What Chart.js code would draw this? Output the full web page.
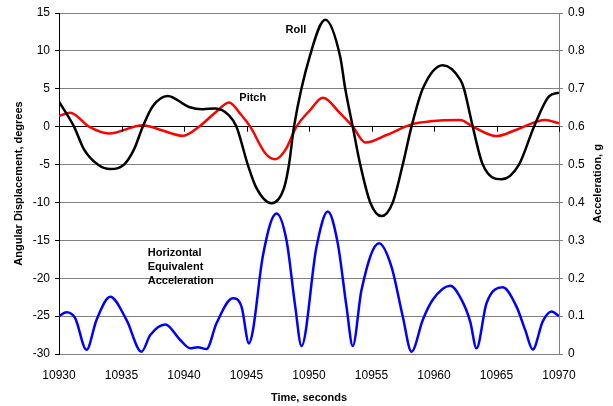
<!DOCTYPE html>
<html>
<head>
<meta charset="utf-8">
<script src="https://cdn.jsdelivr.net/npm/chart.js@4"></script>
<style>
  html, body { margin: 0; padding: 0; background: #fff; }
  #wrap { width: 613px; height: 406px; }
</style>
</head>
<body>
<div id="wrap"><canvas id="chart"></canvas></div>
<script>
// ---- data ----
const rollT   = [10930, 10931.2, 10932.0, 10933.1, 10934.1, 10935.2, 10936.0, 10936.7, 10937.5, 10938.7, 10940.4, 10941.5, 10942.5, 10943.6, 10944.2, 10945.1, 10945.8, 10947.0, 10948.0, 10948.4, 10948.8, 10950.1, 10951.3, 10952.5, 10952.9, 10953.5, 10954.1, 10954.9, 10955.8, 10956.7, 10957.5, 10958.2, 10959.1, 10960.7, 10962.1, 10962.4, 10963.1, 10963.9, 10965.4, 10966.8, 10968.0, 10969.2, 10970];
const rollDeg = [3.3, 0, -3.0, -5, -5.6, -5, -3.0, 0, 2.7, 4.05, 2.6, 2.3, 2.4, 1.5, 0, -5, -8.1, -10.1, -8.1, -5, 0, 9.5, 14.1, 9.2, 5, 0, -5, -10, -11.8, -10, -5, 0, 5, 8.1, 6.2, 5, 0, -5, -6.95, -5, 0, 4.0, 4.5];

const pitchT   = [10930, 10930.9, 10932.4, 10934.0, 10936.7, 10938.1, 10939.9, 10941.2, 10942.6, 10943.6, 10944.6, 10945.3, 10946.5, 10947.3, 10948.1, 10949.0, 10950.1, 10951.1, 10952.5, 10953.5, 10954.5, 10956.2, 10958.2, 10959.7, 10962.1, 10963.1, 10965.0, 10966.6, 10968.9, 10970];
const pitchDeg = [1.4, 1.85, 0, -0.9, 0.2, -0.4, -1.2, 0, 2.0, 3.2, 1.5, 0, -3.5, -4.3, -3.1, 0, 2.2, 3.8, 1.76, 0, -2.1, -1.1, 0.3, 0.7, 0.87, 0, -1.24, -0.4, 0.87, 0.43];

const accT = [10930, 10930.6, 10931.3, 10932.2, 10933, 10934.1, 10935.4, 10936.6, 10937.3, 10938.5, 10939.7, 10940.5, 10941.1, 10941.8, 10942.6, 10943.9, 10944.6, 10945.2, 10945.5, 10946.3, 10947.4, 10948.2, 10948.9, 10949.4, 10950.6, 10951.5, 10952.3, 10953.0, 10953.5, 10954.2, 10955.6, 10956.6, 10957.5, 10958.2, 10959.1, 10959.9, 10961.3, 10962.3, 10962.9, 10963.4, 10964.2, 10965.5, 10966.6, 10967.3, 10967.9, 10968.7, 10969.4, 10970];
const accG = [0.10, 0.11, 0.094, 0.011, 0.09, 0.151, 0.09, 0.006, 0.05, 0.078, 0.037, 0.015, 0.018, 0.013, 0.081, 0.147, 0.125, 0.028, 0.06, 0.257, 0.371, 0.30, 0.125, 0.021, 0.283, 0.376, 0.292, 0.125, 0.021, 0.169, 0.292, 0.23, 0.099, 0.006, 0.09, 0.143, 0.18, 0.137, 0.085, 0.015, 0.134, 0.176, 0.125, 0.063, 0.012, 0.086, 0.112, 0.10];

const xTicks = [10930, 10935, 10940, 10945, 10950, 10955, 10960, 10965, 10970];
const degTicks = [-30, -25, -20, -15, -10, -5, 0, 5, 10, 15];
const gTicks = [0, 0.1, 0.2, 0.3, 0.4, 0.5, 0.6, 0.7, 0.8, 0.9];

// in-plot labels: [text lines, time, degrees]
const notes = [
  [["Roll"], 10948.96, 12.8],
  [["Pitch"], 10945.5, 3.8],
  [["Horizontal", "Equivalent", "Acceleration"], 10937.1, -16.7]
];
const rightTitle = "Acceleration, g";

const pts = (t, v) => t.map((x, i) => ({ x: x, y: v[i] }));
const FONT = "'Liberation Sans', Arial, sans-serif";

// tick marks on the zero line, the text notes, and the right axis title
const extras = {
  id: "extras",
  afterDatasetsDraw(chart) {
    const ctx = chart.ctx, x = chart.scales.x, y = chart.scales.y, a = chart.chartArea;
    const y0 = y.getPixelForValue(0);
    ctx.save();
    ctx.strokeStyle = "#000";
    ctx.lineWidth = 1;
    xTicks.forEach(t => {
      const px = Math.round(x.getPixelForValue(t)) + 0.5;
      ctx.beginPath(); ctx.moveTo(px, y0); ctx.lineTo(px, y0 + 5); ctx.stroke();
    });
    ctx.fillStyle = "#000";
    ctx.font = "bold 11px " + FONT;
    notes.forEach(n => {
      const single = n[0].length === 1;
      ctx.textAlign = single ? "center" : "left";
      ctx.textBaseline = "middle";
      n[0].forEach((s, i) => {
        ctx.fillText(s, x.getPixelForValue(n[1]), y.getPixelForValue(n[2]) + i * 14);
      });
    });
    ctx.translate(598, (a.top + a.bottom) / 2);
    ctx.rotate(-Math.PI / 2);
    ctx.textAlign = "center";
    ctx.fillText(rightTitle, 0, 0);
    ctx.restore();
  }
};

new Chart(document.getElementById("chart"), {
  type: "line",
  data: {
    datasets: [
      { label: "Roll", data: pts(rollT, rollDeg), yAxisID: "y", borderColor: "#000000" },
      { label: "Pitch", data: pts(pitchT, pitchDeg), yAxisID: "y", borderColor: "#ff0000" },
      { label: "Horizontal Equivalent Acceleration", data: pts(accT, accG), yAxisID: "y2", borderColor: "#0000ff" }
    ]
  },
  options: {
    responsive: true,
    maintainAspectRatio: false,
    animation: false,
    layout: { padding: { top: 13, left: 0, right: 0, bottom: 0 } },
    elements: {
      point: { radius: 0 },
      line: { borderWidth: 2.5, cubicInterpolationMode: "monotone", fill: false }
    },
    plugins: { legend: { display: false }, tooltip: { enabled: false } },
    scales: {
      x: {
        type: "linear", min: 10930, max: 10970,
        afterBuildTicks: s => { s.ticks = xTicks.map(v => ({ value: v })); },
        afterFit: s => { s.height = 52; },
        grid: { display: false },
        border: { display: false },
        ticks: { color: "#000", font: { family: FONT, size: 12 }, padding: 6, maxRotation: 0, callback: v => String(v) },
        title: { display: true, text: "Time, seconds", color: "#000", font: { family: FONT, size: 11, weight: "bold" }, padding: { top: 0, bottom: 1 } }
      },
      y: {
        position: "left", min: -30, max: 15,
        afterBuildTicks: s => { s.ticks = degTicks.map(v => ({ value: v })); },
        afterFit: s => { s.width = 59; },
        grid: {
          color: c => c.tick && c.tick.value === 0 ? "#000" : "#808080",
          tickColor: "#000", tickLength: 4, lineWidth: 1
        },
        border: { color: "#000", width: 1 },
        ticks: { color: "#000", font: { family: FONT, size: 12 }, padding: 5 },
        title: { display: true, text: "Angular Displacement, degrees", color: "#000", font: { family: FONT, size: 11, weight: "bold" }, padding: { top: 12, bottom: 0 } }
      },
      y2: {
        position: "right", min: 0, max: 0.9,
        afterBuildTicks: s => { s.ticks = gTicks.map(v => ({ value: v })); },
        afterFit: s => { s.width = 54; },
        grid: { drawOnChartArea: false, tickColor: "#808080", tickLength: 4 },
        border: { color: "#808080", width: 1 },
        ticks: { color: "#000", font: { family: FONT, size: 12 }, padding: 5, callback: v => v === 0 ? "0" : v.toFixed(1) }
      }
    }
  },
  plugins: [extras]
});
</script>
</body>
</html>
